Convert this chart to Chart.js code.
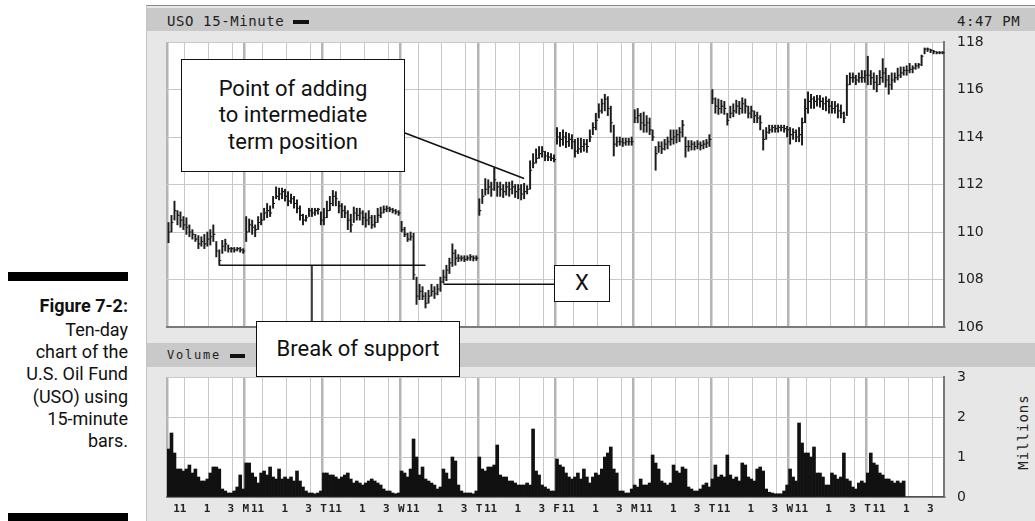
<!DOCTYPE html>
<html>
<head>
<meta charset="utf-8">
<script src="https://cdn.jsdelivr.net/npm/chart.js@4.4.1/dist/chart.umd.min.js"></script>
<style>
  body { margin: 0; width: 1035px; height: 521px; position: relative; overflow: hidden; background: #fff; font-family: Roboto, sans-serif; }
  .abs { position: absolute; }
  .bar { background: #000; }
  #caption { left: 0; width: 128px; top: 295px; text-align: right; font-size: 18px; line-height: 22.3px; color: #111; }
  #caption .fig { font-weight: bold; margin-bottom: 1.4px; }
  #panel { left: 146px; top: 5px; width: 889px; height: 516px; background: #e7e7e7; border-left: 1px solid #c4c4c4; border-top: 1px solid #8c8c8c; box-sizing: border-box; }
  .hdr { background: #c9c9c9; left: 147px; width: 888px; }
  .mono { font-family: "DejaVu Sans Mono", monospace; color: #222; white-space: nowrap; }
  .dash { display: inline-block; background: #111; vertical-align: middle; }
  .box { background: #fff; border: 1.5px solid #111; box-sizing: border-box; font-family: Roboto, sans-serif; font-size: 22px; color: #111; text-align: center; display: flex; align-items: center; justify-content: center; line-height: 26.5px; }
</style>
</head>
<body>
<div class="abs bar" style="left:8px;top:272px;width:120px;height:9px"></div>
<div class="abs bar" style="left:8px;top:513px;width:120px;height:10px"></div>
<div id="caption" class="abs">
  <div class="fig">Figure 7-2:</div>
  <div>Ten-day</div>
  <div>chart of the</div>
  <div>U.S. Oil Fund</div>
  <div>(USO) using</div>
  <div>15-minute</div>
  <div>bars.</div>
</div>

<div id="panel" class="abs"></div>
<div class="abs hdr" style="top:8px;height:23px"></div>
<div class="abs mono" style="left:167px;top:13px;font-size:14px;letter-spacing:0.6px">USO 15-Minute <span class="dash" style="width:16px;height:4px"></span></div>
<div class="abs mono" style="left:957px;top:13px;font-size:14px;letter-spacing:0.6px">4:47 PM</div>
<div class="abs hdr" style="top:343px;height:24px"></div>
<div class="abs mono" style="left:167px;top:348px;font-size:12px;letter-spacing:1.8px">Volume <span class="dash" style="width:15px;height:4px"></span></div>
<div class="abs mono" style="left:1023px;top:432px;font-size:14px;letter-spacing:1px;transform:translate(-50%,-50%) rotate(-90deg)">Millions</div>

<canvas id="priceChart" class="abs" style="left:146px;top:34px"></canvas>
<canvas id="volChart" class="abs" style="left:146px;top:367px"></canvas>

<div class="abs box" style="left:181px;top:59px;width:224px;height:113px">Point of adding<br>to intermediate<br>term position</div>
<div class="abs box" style="left:554px;top:265px;width:56px;height:37px">X</div>
<div class="abs box" style="left:256px;top:321px;width:204px;height:56px">Break of support</div>

<script>
// 15-minute bars, 26 per session, ten sessions (one row per day)
const BARS_PER_DAY = 26;
const dayLetters = ['', 'M', 'T', 'W', 'T', 'F', 'M', 'T', 'W', 'T'];
const hourLabels = ['11', '1', '3'];
const hourBars = [6, 14, 22];   // bar offset of 11:00, 13:00, 15:00 from the 9:30 open
const priceTicks = [106, 108, 110, 112, 114, 116, 118];
const volumeTicks = [0, 1, 2, 3];

const closes = [
  110.0, 110.4, 110.9, 110.7, 110.5, 110.3, 110.2, 110.0, 109.9, 109.7, 109.5, 109.6, 109.5, 109.7, 109.8, 109.9, 109.2, 108.8, 109.4, 109.5, 109.3, 109.3, 109.25, 109.3, 109.25, 109.2,
  110.0, 110.3, 110.2, 110.1, 110.4, 110.5, 110.8, 110.9, 110.8, 111.2, 111.5, 111.6, 111.7, 111.5, 111.3, 111.4, 111.2, 111.0, 110.7, 110.5, 110.6, 110.9, 110.8, 110.9, 110.95, 110.5,
  110.6, 110.9, 111.2, 111.5, 111.4, 111.1, 110.9, 110.8, 110.5, 110.3, 110.8, 110.7, 110.8, 110.6, 110.5, 110.6, 110.3, 110.4, 110.7, 110.8, 110.95, 111.0, 110.95, 110.9, 110.85, 110.8,
  110.1, 109.9, 109.7, 109.8, 108.2, 107.3, 107.5, 107.3, 107.0, 107.3, 107.5, 107.4, 107.6, 107.9, 108.1, 108.4, 108.7, 109.1, 108.9, 108.9, 108.9, 108.85, 108.9, 108.95, 108.9, 108.9,
  110.9, 111.5, 111.8, 111.9, 111.8, 112.2, 111.9, 111.8, 111.7, 111.9, 111.8, 111.9, 111.7, 111.8, 111.6, 111.7, 111.8, 112.6, 112.9, 113.1, 113.3, 113.4, 113.2, 113.15, 113.1, 113.05,
  114.0, 113.9, 114.0, 113.8, 113.9, 113.8, 113.4, 113.5, 113.6, 113.7, 113.6, 114.0, 114.4, 114.7, 115.1, 115.4, 115.6, 115.2, 114.6, 113.7, 113.8, 113.8, 113.75, 113.8, 113.8, 113.8,
  114.8, 114.9, 114.6, 114.5, 114.6, 114.3, 114.0, 113.3, 113.6, 113.5, 113.7, 113.8, 113.9, 114.0, 114.1, 114.2, 114.5, 113.6, 113.6, 113.7, 113.6, 113.7, 113.65, 113.7, 113.75, 113.9,
  115.6, 115.3, 115.2, 115.3, 115.2, 114.7, 115.0, 115.1, 115.3, 115.2, 115.4, 115.3, 115.0, 115.1, 114.9, 114.8, 114.6, 113.9, 114.2, 114.3, 114.4, 114.35, 114.4, 114.4, 114.35, 114.3,
  114.1, 114.2, 114.0, 114.1, 114.6, 115.2, 115.5, 115.6, 115.5, 115.6, 115.5, 115.4, 115.5, 115.3, 115.2, 115.3, 115.1, 115.0, 114.8, 116.2, 116.5, 116.5, 116.4, 116.5, 116.5, 116.6,
  116.6, 116.5, 116.3, 116.2, 116.5, 116.7, 116.4, 116.2, 116.4, 116.5, 116.6, 116.7, 116.8, 116.8, 116.85, 116.9, 117.0, 117.05, 117.4, 117.7, 117.7, 117.65, 117.6, 117.55, 117.55, 117.55
];
const highs = [
  110.4, 110.7, 111.3, 110.9, 110.85, 110.65, 110.6, 110.3, 110.1, 109.9, 109.85, 109.8, 109.9, 110.0, 110.1, 110.3, 109.6, 109.25, 109.65, 109.7, 109.45, 109.35, 109.35, 109.35, 109.35, 109.3,
  110.65, 110.55, 110.5, 110.3, 110.65, 110.8, 111.0, 111.2, 111.1, 111.5, 111.9, 111.85, 111.85, 111.8, 111.7, 111.6, 111.5, 111.35, 111.1, 110.75, 110.7, 111.0, 111.0, 111.0, 111.0, 110.85,
  111.0, 111.3, 111.5, 111.75, 111.7, 111.3, 111.2, 111.1, 110.9, 110.75, 111.05, 111.0, 111.0, 110.9, 110.8, 110.9, 110.7, 110.7, 111.0, 111.05, 111.1, 111.1, 111.05, 111.0, 110.95, 110.9,
  110.45, 110.2, 109.95, 110.0, 109.95, 108.1, 107.8, 107.7, 107.45, 107.55, 107.8, 107.7, 107.8, 108.1, 108.4, 108.6, 108.9, 109.5, 109.25, 109.05, 109.0, 109.0, 109.0, 109.05, 109.0, 109.0,
  111.4, 111.8, 112.25, 112.2, 112.1, 112.7, 112.1, 112.1, 112.0, 112.1, 112.1, 112.15, 112.0, 112.0, 112.0, 112.05, 111.95, 113.0, 113.3, 113.5, 113.6, 113.6, 113.4, 113.35, 113.3, 113.25,
  114.4, 114.2, 114.3, 114.2, 114.15, 114.1, 113.9, 113.95, 113.95, 113.9, 113.9, 114.3, 114.6, 115.0, 115.4, 115.6, 115.8, 115.7, 115.3, 114.5, 114.0, 114.0, 113.95, 113.95, 113.95, 114.0,
  115.15, 115.2, 115.0, 115.05, 114.9, 114.8, 114.3, 113.6, 113.8, 113.8, 113.9, 114.0, 114.3, 114.3, 114.3, 114.4, 114.7, 114.0, 113.85, 113.85, 113.8, 113.85, 113.8, 113.85, 113.9, 114.1,
  116.0, 115.65, 115.6, 115.55, 115.5, 115.0, 115.3, 115.4, 115.55, 115.5, 115.65, 115.6, 115.3, 115.3, 115.1, 115.05, 114.9, 114.3, 114.4, 114.5, 114.5, 114.5, 114.5, 114.5, 114.5, 114.45,
  114.4, 114.35, 114.3, 114.4, 114.8, 115.6, 115.9, 115.8, 115.7, 115.75, 115.75, 115.65, 115.7, 115.6, 115.5, 115.5, 115.4, 115.35, 115.05, 116.6, 116.7, 116.7, 116.6, 116.7, 116.8, 116.8,
  117.4, 116.8, 116.7, 116.6, 116.8, 117.3, 116.9, 116.6, 116.7, 116.7, 116.9, 116.95, 116.95, 117.0, 117.1, 117.0, 117.1, 117.1, 117.45, 117.75, 117.75, 117.7, 117.65, 117.6, 117.6, 117.6
];
const lows = [
  109.55, 110.0, 110.5, 110.3, 110.2, 110.1, 109.9, 109.8, 109.7, 109.6, 109.3, 109.4, 109.3, 109.4, 109.45, 109.6, 108.95, 108.6, 109.1, 109.2, 109.15, 109.15, 109.15, 109.2, 109.15, 109.1,
  109.6, 110.0, 109.9, 109.8, 110.1, 110.3, 110.5, 110.6, 110.65, 111.0, 111.4, 111.35, 111.4, 111.3, 111.1, 111.2, 111.0, 110.8, 110.5, 110.3, 110.45, 110.65, 110.65, 110.7, 110.75, 110.3,
  110.3, 110.6, 110.9, 111.1, 111.1, 110.8, 110.6, 110.6, 110.1, 110.0, 110.4, 110.5, 110.5, 110.3, 110.2, 110.3, 110.15, 110.2, 110.4, 110.6, 110.8, 110.85, 110.85, 110.8, 110.75, 110.7,
  110.0, 109.8, 109.6, 109.65, 108.0, 106.95, 107.15, 107.15, 106.8, 107.0, 107.3, 107.2, 107.35, 107.5, 107.85, 107.95, 108.25, 108.55, 108.6, 108.75, 108.78, 108.75, 108.8, 108.8, 108.78, 108.8,
  110.7, 111.2, 111.55, 111.6, 111.5, 111.75, 111.5, 111.5, 111.45, 111.55, 111.5, 111.6, 111.45, 111.4, 111.35, 111.4, 111.6, 111.8, 112.7, 112.9, 113.1, 113.15, 113.0, 113.0, 113.0, 112.95,
  113.7, 113.6, 113.65, 113.55, 113.6, 113.5, 113.15, 113.3, 113.35, 113.4, 113.35, 113.8, 114.1, 114.3, 114.8, 115.0, 115.1, 114.9, 114.2, 113.2, 113.6, 113.65, 113.6, 113.65, 113.65, 113.65,
  114.6, 114.6, 114.3, 114.2, 114.2, 114.1, 113.85, 112.6, 113.35, 113.3, 113.45, 113.5, 113.65, 113.7, 113.75, 113.8, 114.0, 113.15, 113.4, 113.45, 113.45, 113.5, 113.45, 113.5, 113.55, 113.6,
  115.4, 115.0, 114.95, 115.0, 114.95, 114.5, 114.8, 114.85, 115.0, 114.95, 115.0, 115.0, 114.8, 114.8, 114.6, 114.6, 114.3, 113.45, 113.9, 114.15, 114.2, 114.2, 114.2, 114.25, 114.2, 114.0,
  113.7, 113.9, 113.8, 113.8, 113.66, 114.6, 115.0, 115.2, 115.2, 115.3, 115.25, 115.15, 115.1, 115.0, 115.0, 115.0, 114.8, 114.8, 114.6, 114.9, 116.2, 116.3, 116.2, 116.3, 116.3, 116.3,
  116.2, 116.2, 116.0, 115.9, 116.2, 116.3, 116.1, 115.8, 116.0, 116.3, 116.4, 116.5, 116.6, 116.6, 116.7, 116.7, 116.85, 116.9, 117.0, 117.5, 117.6, 117.55, 117.5, 117.5, 117.5, 117.5
];
// volume in millions of shares
const volumes = [
  1.2, 1.6, 1.1, 0.7, 0.7, 0.65, 0.7, 0.8, 0.6, 0.7, 0.5, 0.4, 0.4, 0.45, 0.6, 0.75, 0.75, 0.7, 0.2, 0.15, 0.1, 0.1, 0.15, 0.25, 0.55, 0.2,
  0.85, 0.85, 0.6, 0.5, 0.35, 0.6, 0.65, 0.55, 0.75, 0.5, 0.45, 0.7, 0.45, 0.5, 0.45, 0.5, 0.4, 0.65, 0.4, 0.25, 0.15, 0.1, 0.1, 0.08, 0.1, 0.15,
  0.6, 0.6, 0.55, 0.55, 0.5, 0.45, 0.5, 0.55, 0.6, 0.45, 0.35, 0.4, 0.35, 0.3, 0.35, 0.4, 0.45, 0.4, 0.35, 0.3, 0.2, 0.15, 0.15, 0.1, 0.08, 0.1,
  0.65, 0.6, 0.5, 0.7, 1.45, 1.0, 0.55, 0.75, 0.45, 0.4, 0.35, 0.3, 0.2, 0.25, 0.7, 0.6, 0.45, 1.0, 0.9, 0.3, 0.15, 0.1, 0.1, 0.1, 0.08, 0.15,
  1.0, 0.7, 0.65, 0.75, 0.75, 0.8, 1.3, 0.55, 0.5, 0.5, 0.4, 0.4, 0.35, 0.3, 0.3, 0.3, 0.35, 0.3, 1.7, 0.65, 0.55, 0.3, 0.25, 0.2, 0.15, 0.15,
  0.95, 0.8, 0.75, 0.6, 0.5, 0.45, 0.5, 0.6, 0.45, 0.7, 0.5, 0.35, 0.5, 0.6, 0.55, 0.7, 1.0, 1.1, 1.25, 0.7, 0.6, 0.15, 0.15, 0.1, 0.1, 0.2,
  0.3, 0.25, 0.45, 0.3, 0.3, 0.35, 1.05, 0.85, 0.7, 0.4, 0.35, 0.3, 0.35, 0.8, 0.65, 0.6, 0.75, 0.7, 0.25, 0.2, 0.15, 0.15, 0.2, 0.3, 0.35, 0.25,
  0.45, 0.8, 0.5, 0.55, 0.5, 1.05, 0.55, 0.45, 0.5, 0.4, 0.85, 0.8, 0.5, 0.45, 0.4, 0.7, 0.75, 0.65, 0.2, 0.12, 0.1, 0.08, 0.08, 0.08, 0.15, 0.3,
  0.7, 0.5, 0.4, 1.85, 1.35, 1.1, 1.1, 1.0, 1.25, 0.6, 0.6, 0.5, 0.3, 0.3, 0.6, 0.55, 0.45, 0.5, 1.1, 0.45, 0.4, 0.25, 0.2, 0.35, 0.4, 0.35,
  0.6, 1.1, 0.85, 0.8, 0.6, 0.55, 0.45, 0.45, 0.4, 0.35, 0.4, 0.35, 0.4, 0, 0, 0, 0, 0, 0, 0, 0, 0, 0, 0, 0, 0
];

// annotation anchors (bar index, price)
const pointerTarget = { bar: 119, price: 112.25 };
const supportLine = { from: 17, to: 86, price: 108.6, drop: 48 };
const xLine = { from: 92, price: 107.8 };

const barIndex = closes.map((c, i) => i);
const monoFont = 'DejaVu Sans Mono';

function sessionGrid() {
    return {
        offset: true,
        drawTicks: false,
        color: (c) => {
            const k = c.index % BARS_PER_DAY;
            if (k === 0) return '#b4b4b4';
            return hourBars.includes(k) ? '#c8c8c8' : 'rgba(0,0,0,0)';
        },
        lineWidth: (c) => (c.index % BARS_PER_DAY === 0 ? 2.5 : 1)
    };
}

// right-hand value axis; labels sit beside the frame without eating plot height
function valueAxis(ticks) {
    return {
        position: 'right',
        min: ticks[0],
        max: ticks[ticks.length - 1],
        afterBuildTicks: (s) => { s.ticks = ticks.map(v => ({ value: v })); },
        grid: { color: '#c8c8c8', drawTicks: false },
        border: { display: true, color: '#7a7a7a', width: 2 },
        ticks: { padding: 13, color: '#222', font: { family: 'DejaVu Sans', size: 14 } },
        afterFit: (s) => { s.width = 91; s.paddingTop = 0; s.paddingBottom = 0; }
    };
}

const plotBackground = {
    id: 'plotBackground',
    beforeDraw(chart) {
        const a = chart.chartArea;
        chart.ctx.save();
        chart.ctx.fillStyle = '#fff';
        chart.ctx.fillRect(a.left, a.top, a.right - a.left, a.bottom - a.top);
        chart.ctx.restore();
    }
};

// lines from the callout boxes to the price bars
const calloutLines = {
    id: 'calloutLines',
    afterDraw(chart) {
        const x = chart.scales.x, y = chart.scales.y, ctx = chart.ctx;
        const cv = chart.canvas;
        const ox = cv.offsetLeft, oy = cv.offsetTop;
        ctx.save();
        ctx.strokeStyle = '#111';
        ctx.lineWidth = 1.5;
        ctx.beginPath();
        ctx.moveTo(405 - ox, 133 - oy);
        ctx.lineTo(x.getPixelForValue(pointerTarget.bar), y.getPixelForValue(pointerTarget.price));
        const sy = y.getPixelForValue(supportLine.price);
        ctx.moveTo(x.getPixelForValue(supportLine.from), sy);
        ctx.lineTo(x.getPixelForValue(supportLine.to), sy);
        ctx.moveTo(x.getPixelForValue(supportLine.drop), sy);
        ctx.lineTo(x.getPixelForValue(supportLine.drop), 321 - oy);
        const xy = y.getPixelForValue(xLine.price);
        ctx.moveTo(x.getPixelForValue(xLine.from), xy);
        ctx.lineTo(554 - ox, xy);
        ctx.stroke();
        ctx.restore();
    }
};

const priceCanvas = document.getElementById('priceChart');
priceCanvas.width = 889; priceCanvas.height = 300;
new Chart(priceCanvas, {
    type: 'bar',
    data: {
        labels: barIndex,
        datasets: [
            {
                label: 'High-Low',
                data: lows.map((l, i) => [l, highs[i]]),
                backgroundColor: '#1c1c1c',
                barThickness: 1.3,
                order: 2
            },
            {
                type: 'line',
                label: 'Close',
                data: closes,
                showLine: false,
                pointStyle: 'dash',
                pointRadius: 2,
                pointBorderColor: '#1c1c1c',
                pointBorderWidth: 1.2,
                order: 1
            }
        ]
    },
    options: {
        responsive: false,
        animation: false,
        layout: { padding: { left: 21, top: 8, right: 0, bottom: 0 } },
        plugins: { legend: { display: false }, tooltip: { enabled: false } },
        scales: {
            x: {
                grid: sessionGrid(),
                ticks: { display: false, autoSkip: false, maxRotation: 0 },
                border: { display: true, color: '#7a7a7a', width: 2 },
                afterFit: (s) => { s.height = 7; s.paddingLeft = 0; s.paddingRight = 0; }
            },
            y: valueAxis(priceTicks)
        }
    },
    plugins: [plotBackground, calloutLines]
});

const volCanvas = document.getElementById('volChart');
volCanvas.width = 889; volCanvas.height = 154;
new Chart(volCanvas, {
    type: 'bar',
    data: {
        labels: barIndex,
        datasets: [{
            label: 'Volume',
            data: volumes,
            backgroundColor: '#111',
            barPercentage: 1,
            categoryPercentage: 1
        }]
    },
    options: {
        responsive: false,
        animation: false,
        layout: { padding: { left: 21, top: 10, right: 0, bottom: 0 } },
        plugins: { legend: { display: false }, tooltip: { enabled: false } },
        scales: {
            x: {
                grid: sessionGrid(),
                border: { display: true, color: '#7a7a7a', width: 2 },
                ticks: {
                    autoSkip: false,
                    maxRotation: 0,
                    minRotation: 0,
                    align: 'end',
                    padding: 6,
                    color: '#222',
                    font: { family: monoFont, size: 11, weight: 'bold' },
                    callback: (v, i) => {
                        const d = Math.floor(i / BARS_PER_DAY), k = i % BARS_PER_DAY;
                        if (k === 1) return dayLetters[d];
                        const h = hourBars.indexOf(k);
                        return h >= 0 ? hourLabels[h] : '';
                    }
                },
                afterFit: (s) => { s.height = 24; s.paddingLeft = 0; s.paddingRight = 0; }
            },
            y: valueAxis(volumeTicks)
        }
    },
    plugins: [plotBackground]
});
</script>
</body>
</html>
